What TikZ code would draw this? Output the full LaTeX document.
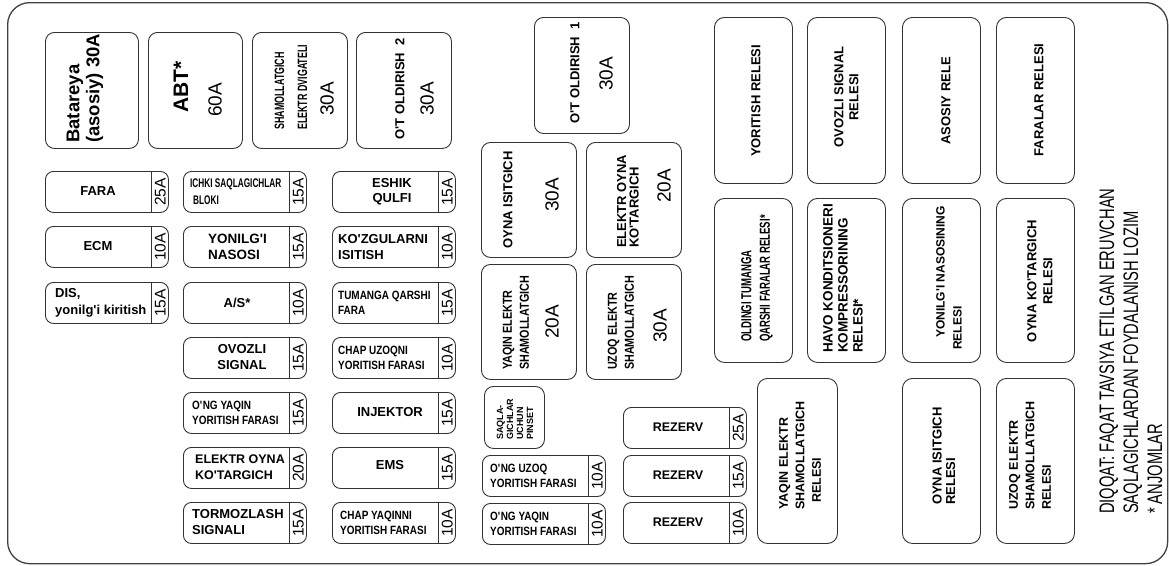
\documentclass[tikz,border=0pt]{standalone}
\usepackage{fontspec}
\setmainfont{Liberation Sans}
\newfontfamily\nar{Liberation Sans}[FakeStretch=0.83]
\newfontfamily\narr{Liberation Sans}[FakeStretch=0.66]
\newfontfamily\cond{Liberation Sans}[FakeStretch=0.7]
\newcommand\q{\textquotesingle}
\tikzset{
 ln/.style={draw=black!80, line width=0.9pt},
 fbox/.style={ln, rounded corners=9pt, inner sep=0pt},
 sfz/.style={ln, rounded corners=8pt, inner sep=0pt, minimum width=123pt, minimum height=41pt},
 rbox/.style={ln, rounded corners=10pt, inner sep=0pt},
 divl/.style={draw=black!80, line width=0.9pt},
 lab/.style={inner sep=0pt, align=left, font=\bfseries\fontsize{13}{16}\selectfont},
 nlab/.style={lab, font=\nar\bfseries\fontsize{12}{15}\selectfont},
 amp/.style={inner sep=0pt, rotate=90, font=\fontsize{15.5}{16}\selectfont},
 bigamp/.style={inner sep=0pt, rotate=90, font=\fontsize{19}{20}\selectfont},
 vlab/.style={lab, rotate=90},
 frame/.style={draw=black!75, line width=1.3pt, rounded corners=22pt, inner sep=0pt},
}
\newcommand\bx[6]{\node[#1, anchor=north west, minimum width=#5pt, minimum height=#6pt] (#2) at (#3,#4) {};}
\newcommand\fusesm[4]{%
  \node[sfz, anchor=north west] (#1) at (#2,#3) {};
  \draw[divl] ([xshift=-17pt]#1.north east) -- ([xshift=-17pt]#1.south east);
  \node[amp] (#1-a) at ([xshift=-8.5pt]#1.east) {#4};
}
\begin{document}
\begin{tikzpicture}[x=1pt,y=-1pt]
\useasboundingbox (0,0) rectangle (1169,565);
\node[frame, anchor=north west, minimum width=1160pt, minimum height=561pt] (frame) at (7,2) {};

% top big fuses
\bx{fbox}{bat}{45}{32}{93}{116}
\node[vlab, font=\bfseries\fontsize{18.5}{20}\selectfont, anchor=west] (bat-t) at (85,143) {Batareya\\(asosiy) 30A};
\bx{fbox}{abt}{148}{32}{94}{116}
\node[vlab, font=\bfseries\fontsize{21}{22}\selectfont] (abt-t) at (181,87) {ABT*};
\node[bigamp] (abt-a) at (215,100) {60A};
\bx{fbox}{shm}{252}{32}{95}{116}
\node[vlab, font=\narr\bfseries\fontsize{13.5}{23}\selectfont, anchor=west] (shm-t) at (291,130) {SHAMOLLATGICH\\ELEKTR DVIGATELI};
\node[bigamp] (shm-a) at (327,99) {30A};
\bx{fbox}{ot2}{356}{32}{95}{116}
\node[vlab] (ot2-t) at (400,89) {O\q T OLDIRISH\ \ 2};
\node[bigamp] (ot2-a) at (427,99) {30A};

% middle big fuses
\bx{fbox}{ot1}{534}{17}{95}{116}
\node[vlab] (ot1-t) at (575,73) {O\q T OLDIRISH\ \ 1};
\node[bigamp] (ot1-a) at (606,74) {30A};
\bx{fbox}{oyi}{481}{142}{95}{115}
\node[vlab] (oyi-t) at (508,200) {OYNA ISITGICH};
\node[bigamp] (oyi-a) at (552,195) {30A};
\bx{fbox}{eok}{586}{142}{95}{115}
\node[vlab, font=\bfseries\fontsize{13}{12.5}\selectfont, anchor=west] (eok-t) at (628,248) {ELEKTR OYNA\\KO\q TARGICH};
\node[bigamp] (eok-a) at (664,186) {20A};
\bx{fbox}{yes}{481}{264}{95}{115}
\node[vlab, font=\nar\bfseries\fontsize{13}{17}\selectfont, anchor=west] (yes-t) at (516,370) {YAQIN ELEKTR\\SHAMOLLATGICH};
\node[bigamp] (yes-a) at (552,322) {20A};
\bx{fbox}{ues}{586}{264}{95}{115}
\node[vlab, font=\nar\bfseries\fontsize{13}{17}\selectfont, anchor=west] (ues-t) at (621,370) {UZOQ ELEKTR\\SHAMOLLATGICH};
\node[bigamp] (ues-a) at (660,326) {30A};
\bx{fbox}{pin}{484}{386}{60}{62}
\node[vlab, font=\bfseries\fontsize{9}{10}\selectfont, anchor=west] (pin-t) at (515,440) {SAQLA-\\GICHLAR\\UCHUN\\PINSET};

% column 1 small fuses
\fusesm{fara}{45}{171}{25A}
\node[lab] (fara-t) at (98,191.5) {FARA};
\fusesm{ecm}{45}{226}{10A}
\node[lab] (ecm-t) at (98,246.5) {ECM};
\fusesm{dis}{45}{282}{15A}
\node[lab, anchor=west, font=\bfseries\fontsize{13}{17}\selectfont] (dis-t) at (55,302.5) {DIS,\\yonilg\q i kiritish};

% column 2
\fusesm{ichki}{183}{171}{15A}
\node[lab, anchor=west, font=\narr\bfseries\fontsize{12.5}{17}\selectfont] (ichki-t) at (190,192) {ICHKI SAQLAGICHLAR\\\hspace*{3pt}BLOKI};
\fusesm{yon}{183}{226}{15A}
\node[lab, anchor=west, font=\bfseries\fontsize{13.5}{16}\selectfont] (yon-t) at (208,247) {YONILG\q I\\NASOSI};
\fusesm{as}{183}{282}{10A}
\node[lab] (as-t) at (237,302.5) {A/S*};
\fusesm{ovz}{183}{337}{15A}
\node[lab, align=center] (ovz-t) at (242,357.5) {OVOZLI\\SIGNAL};
\fusesm{ongy}{183}{392}{15A}
\node[nlab, anchor=west] (ongy-t) at (192,412.5) {O\q NG YAQIN\\YORITISH FARASI};
\fusesm{eoy}{183}{447}{20A}
\node[lab, anchor=west, font=\bfseries\fontsize{12.5}{16}\selectfont] (eoy-t) at (195,467.5) {ELEKTR OYNA\\KO\q TARGICH};
\fusesm{torm}{183}{502}{15A}
\node[lab, anchor=west] (torm-t) at (192,522.5) {TORMOZLASH\\SIGNALI};

% column 3
\fusesm{esh}{332}{171}{15A}
\node[lab, align=center, font=\bfseries\fontsize{13}{14.5}\selectfont] (esh-t) at (392,191.5) {ESHIK\\QULFI};
\fusesm{koz}{332}{226}{10A}
\node[lab, anchor=west] (koz-t) at (338,247) {KO\q ZGULARNI\\ISITISH};
\fusesm{tum}{332}{282}{15A}
\node[nlab, anchor=west] (tum-t) at (338,302.5) {TUMANGA QARSHI\\FARA};
\fusesm{chu}{332}{337}{10A}
\node[nlab, anchor=west] (chu-t) at (338,357.5) {CHAP UZOQNI\\YORITISH FARASI};
\fusesm{inj}{332}{392}{15A}
\node[lab] (inj-t) at (390,412.5) {INJEKTOR};
\fusesm{ems}{332}{447}{15A}
\node[lab] (ems-t) at (390,465) {EMS};
\fusesm{chy}{332}{502}{10A}
\node[nlab, anchor=west] (chy-t) at (340,522.5) {CHAP YAQINNI\\YORITISH FARASI};

% middle small fuses
\fusesm{onu}{482}{455}{10A}
\node[nlab, anchor=west] (onu-t) at (490,475.5) {O\q NG UZOQ\\YORITISH FARASI};
\fusesm{ony}{482}{503}{10A}
\node[nlab, anchor=west] (ony-t) at (490,523.5) {O\q NG YAQIN\\YORITISH FARASI};
\fusesm{rz1}{623}{407}{25A}
\node[lab, font=\bfseries\fontsize{12.5}{15}\selectfont] (rz1-t) at (678,427.5) {REZERV};
\fusesm{rz2}{623}{455}{15A}
\node[lab, font=\bfseries\fontsize{12.5}{15}\selectfont] (rz2-t) at (678,475.5) {REZERV};
\fusesm{rz3}{623}{502}{10A}
\node[lab, font=\bfseries\fontsize{12.5}{15}\selectfont] (rz3-t) at (678,522.5) {REZERV};

% relays row 1
\bx{rbox}{yor}{714}{17}{78}{166}
\node[vlab] (yor-t) at (756,101) {YORITISH RELESI};
\bx{rbox}{ovs}{807}{17}{78}{166}
\node[vlab, align=center, font=\bfseries\fontsize{13}{15}\selectfont] (ovs-t) at (846.5,97) {OVOZLI SIGNAL\\RELESI};
\bx{rbox}{aso}{902}{17}{78}{166}
\node[vlab] (aso-t) at (946,101) {ASOSIY RELE};
\bx{rbox}{far}{996}{17}{78}{166}
\node[vlab] (far-t) at (1039,100) {FARALAR RELESI};

% relays row 2
\bx{rbox}{old}{714}{198}{78}{164}
\node[vlab, font=\narr\bfseries\fontsize{14.5}{18.5}\selectfont, anchor=west] (old-t) at (757,342) {OLDINGI TUMANGA\\QARSHI FARALAR RELESI*};
\bx{rbox}{havo}{807}{198}{78}{164}
\node[vlab, font=\bfseries\fontsize{13.5}{15}\selectfont, anchor=west] (havo-t) at (843,353) {HAVO KONDITSIONERI\\KOMPRESSORINING\\RELESI*};
\bx{rbox}{yonr}{902}{198}{78}{164}
\node[vlab, font=\bfseries\fontsize{12}{17}\selectfont, anchor=west] (yonr-t) at (949,350) {\hspace*{12pt}YONILG\q I NASOSINING\\RELESI};
\bx{rbox}{oynk}{996}{198}{78}{164}
\node[vlab, align=center] (oynk-t) at (1040,281) {OYNA KO\q TARGICH\\RELESI};

% relays row 3
\bx{rbox}{yaqr}{757}{378}{80}{165}
\node[vlab, font=\bfseries\fontsize{12.5}{16.5}\selectfont, anchor=west] (yaqr-t) at (800,510) {YAQIN ELEKTR\\SHAMOLLATGICH\\\hspace*{7pt}RELESI};
\bx{rbox}{oyir}{902}{378}{78}{165}
\node[vlab, font=\bfseries\fontsize{13}{13.5}\selectfont, anchor=west] (oyir-t) at (944,505) {OYNA ISITGICH\\RELESI};
\bx{rbox}{uzr}{996}{378}{78}{165}
\node[vlab, font=\bfseries\fontsize{12.5}{16.5}\selectfont, anchor=west] (uzr-t) at (1030,510) {UZOQ ELEKTR\\SHAMOLLATGICH\\RELESI};

% note
\node[vlab, font=\cond\fontsize{21}{24}\selectfont, anchor=west] (note) at (1131,514) {DIQQAT: FAQAT TAVSIYA ETILGAN ERUVCHAN\\SAQLAGICHLARDAN FOYDALANISH LOZIM\\{}* ANJOMLAR};
\end{tikzpicture}
\end{document}
